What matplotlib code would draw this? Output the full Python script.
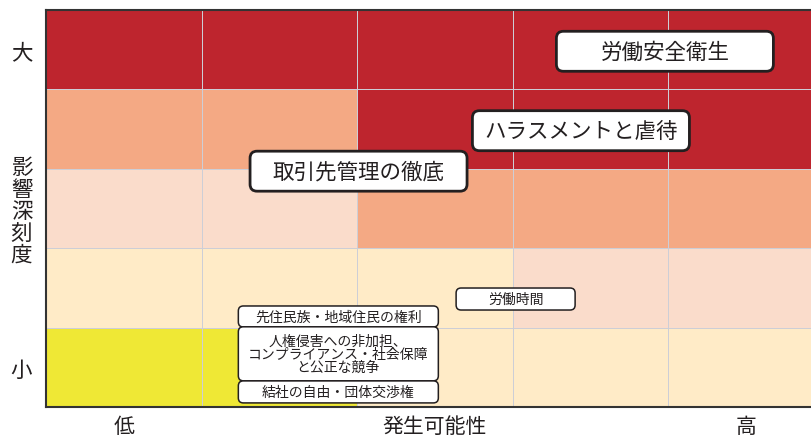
import numpy as np
import matplotlib
matplotlib.use("Agg")
import matplotlib.pyplot as plt
import matplotlib.transforms as mtransforms
from matplotlib.colors import ListedColormap
from matplotlib.patches import FancyBboxPatch

plt.rcParams['font.family'] = ['Noto Sans CJK JP', 'DejaVu Sans']

# risk level per cell, rows from 小 (bottom) to 大 (top), columns 低 -> 高
levels = np.array([
    [0, 0, 1, 1, 1],
    [1, 1, 1, 2, 2],
    [2, 2, 3, 3, 3],
    [3, 3, 4, 4, 4],
    [4, 4, 4, 4, 4],
])
level_colors = ['#EFE835', '#FFEBC7', '#FADCCB', '#F4A984', '#BE252E']

x_ticks = [0.5, 2.5, 4.5]
x_labels = ['低', '発生可能性', '高']
y_ticks = [0.5, 2.5, 4.5]
y_labels = ['小', '影\n響\n深\n刻\n度', '大']

# issues: name, likelihood, impact (grid units)
big_names = ['労働安全衛生', 'ハラスメントと虐待', '取引先管理の徹底']
big_x = [3.98, 3.44, 2.01]
big_y = [4.48, 3.48, 2.97]

small_names = ['労働時間', '先住民族・地域住民の権利',
               '人権侵害への非加担、\nコンプライアンス・社会保障\nと公正な競争',
               '結社の自由・団体交渉権']
small_x = [3.02, 1.88, 1.88, 1.88]
small_y = [1.36, 1.14, 0.67, 0.19]
small_w = [119, 200, 200, 200]
small_h = [22, 21, 54, 22]

fig = plt.figure(figsize=(8.11, 4.39), dpi=100)
ax = fig.add_axes([46 / 811, 1 - 408 / 439, 765 / 811, 397 / 439])

cmap = ListedColormap(level_colors)
ax.pcolormesh(np.arange(6), np.arange(6), levels, cmap=cmap, vmin=-0.5, vmax=4.5,
              edgecolors='#CDCED6', linewidth=0.6)
ax.set_xlim(0, 765 / 155.5)
ax.set_ylim(0, 5)

for s in ['top', 'left', 'bottom']:
    ax.spines[s].set_color('#333333')
    ax.spines[s].set_linewidth(1.5)
ax.spines['right'].set_visible(False)

ax.set_xticks(x_ticks, x_labels, fontsize=15, color='#231F20')
ax.set_yticks(y_ticks, y_labels, fontsize=15.5, color='#231F20', linespacing=1.0)
ax.tick_params(axis='x', length=0, pad=6)
ax.tick_params(axis='y', length=0, pad=0)
for t in ax.get_yticklabels():
    t.set_horizontalalignment('center')
    t.set_x(-0.032)


def box(x, y, w, h, lw, r):
    tr = fig.dpi_scale_trans + mtransforms.ScaledTranslation(x, y, ax.transData)
    p = FancyBboxPatch((-w / 200, -h / 200), w / 100, h / 100,
                       boxstyle=f"round,pad=0,rounding_size={r}",
                       transform=tr, facecolor='white', edgecolor='#231F20',
                       linewidth=lw, zorder=3)
    ax.add_patch(p)


for name, x, y in zip(big_names, big_x, big_y):
    box(x, y, 217, 40, 2.0, 0.07)
    ax.text(x, y, name, ha='center', va='center', fontsize=15.5,
            color='#231F20', zorder=4)

for name, x, y, w, h in zip(small_names, small_x, small_y, small_w, small_h):
    box(x, y, w, h, 1.1, 0.05)
    ax.text(x, y, name, ha='center', va='center', fontsize=10,
            color='#231F20', linespacing=0.95, zorder=4)

fig.savefig('out.png', dpi=100)
